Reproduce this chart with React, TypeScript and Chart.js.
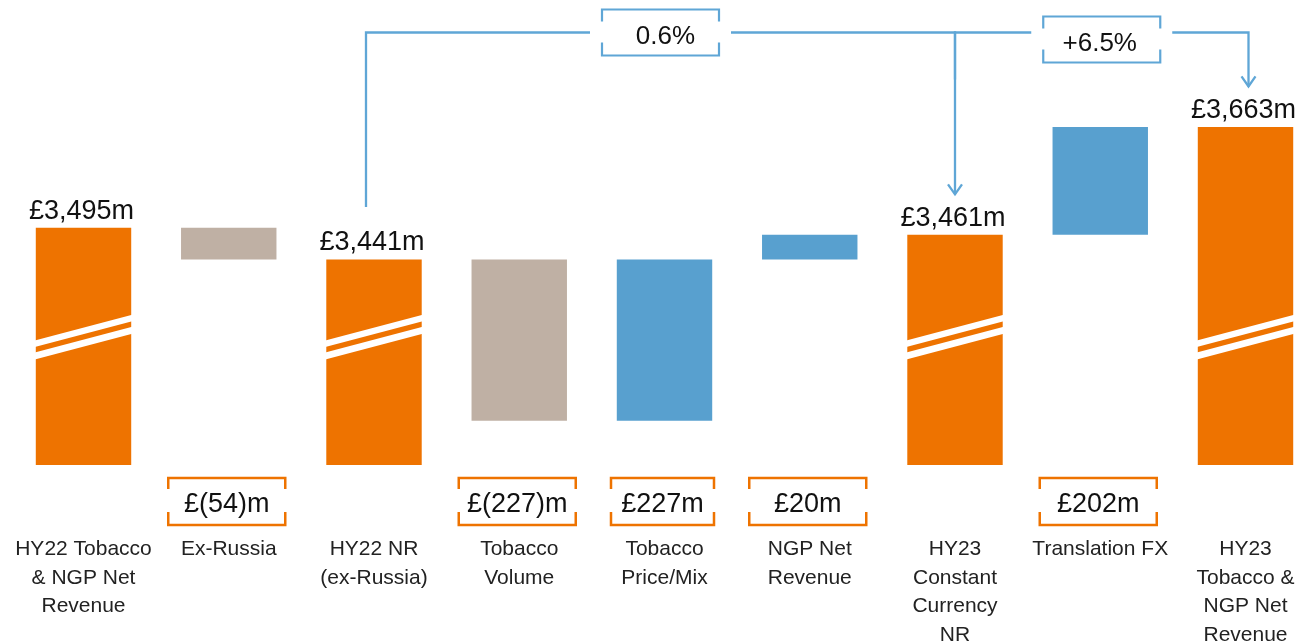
import { useEffect, useRef } from "react";
import { Chart, registerables } from "chart.js";

Chart.register(...registerables);

// ---- Data ----
const categoryLines: string[][] = [
  ["HY22 Tobacco", "& NGP Net", "Revenue"],
  ["Ex-Russia"],
  ["HY22 NR", "(ex-Russia)"],
  ["Tobacco", "Volume"],
  ["Tobacco", "Price/Mix"],
  ["NGP Net", "Revenue"],
  ["HY23", "Constant", "Currency", "NR"],
  ["Translation FX"],
  ["HY23", "Tobacco &", "NGP Net", "Revenue"],
];
const barKinds = ["total", "delta", "total", "delta", "delta", "delta", "total", "delta", "total"];
// Values shown on the chart (£m)
const valuesGBPm = [3495, -54, 3441, -227, 227, 20, 3461, 202, 3663];
// Heights as drawn on the broken (non-linear) axis, in display units
const displaySteps = [51.0, -6.8, 44.2, -34.7, 34.7, 5.3, 49.5, 23.2, 72.7];
// Where the axis-break marks sit on the total bars (display units)
const breakAt = 27.5;
// Growth connectors
const growthLabels = ["0.6%", "+6.5%"];
const growthFrom = [2, 6];
const growthTo = [6, 8];

// ---- Styles ----
const ORANGE = "rgb(238,115,0)";
const TAUPE = "rgb(191,176,164)";
const BLUE = "rgb(88,160,207)";
const LINE_BLUE = "rgb(95,166,214)";
const FONT = '"Liberation Sans", Arial, sans-serif';

function buildFloating() {
  const out: [number, number][] = [];
  let run = 0;
  displaySteps.forEach((v, i) => {
    if (barKinds[i] === "total") {
      out.push([0, v]);
      run = v;
    } else {
      out.push([run, run + v]);
      run += v;
    }
  });
  return out;
}

function fmt(v: number, kind: string) {
  const abs = Math.abs(v).toLocaleString("en-GB");
  if (kind === "total") return "£" + abs + "m";
  return v < 0 ? "£(" + abs + ")m" : "£" + abs + "m";
}

const overlayPlugin = {
  id: "overlay",
  afterDatasetsDraw(chart: any) {
    const ctx: CanvasRenderingContext2D = chart.ctx;
    const xs = chart.scales.x;
    const ys = chart.scales.y;
    const area = chart.chartArea;
    const meta = chart.getDatasetMeta(0);
    ctx.save();

    // Break marks on totals
    const c = ys.getPixelForValue(breakAt);
    const slope = 25 / 95;
    meta.data.forEach((bar: any, i: number) => {
      if (barKinds[i] !== "total") return;
      const { x, width } = bar.getProps(["x", "width"], true);
      const l = x - width / 2 - 1;
      const r = x + width / 2 + 1;
      const half = (width / 2 + 1) * slope;
      ctx.fillStyle = "#ffffff";
      for (const [a, b] of [[-9.5, -3], [2.5, 9.5]]) {
        ctx.beginPath();
        ctx.moveTo(l, c + half + a);
        ctx.lineTo(r, c - half + a);
        ctx.lineTo(r, c - half + b);
        ctx.lineTo(l, c + half + b);
        ctx.closePath();
        ctx.fill();
      }
    });

    // Total labels above bars
    const labelTop = (i: number) => {
      const { y } = meta.data[i].getProps(["y"], true);
      return y;
    };
    ctx.font = "27px " + FONT;
    ctx.fillStyle = "#111";
    ctx.textAlign = "center";
    ctx.textBaseline = "alphabetic";
    meta.data.forEach((bar: any, i: number) => {
      if (barKinds[i] !== "total") return;
      const { x, y } = bar.getProps(["x", "y"], true);
      ctx.fillText(fmt(valuesGBPm[i], "total"), x - 2, y - 9);
    });

    // Delta value boxes below
    const bTop = area.bottom + 13;
    const bBot = area.bottom + 60;
    meta.data.forEach((bar: any, i: number) => {
      if (barKinds[i] !== "delta") return;
      const { x } = bar.getProps(["x"], true);
      const w = i === 4 ? 103 : 117;
      const l = x - w / 2 - 2;
      const r = x + w / 2 - 2;
      ctx.strokeStyle = ORANGE;
      ctx.lineWidth = 2.5;
      ctx.beginPath();
      ctx.moveTo(l, bTop + 11);
      ctx.lineTo(l, bTop);
      ctx.lineTo(r, bTop);
      ctx.lineTo(r, bTop + 11);
      ctx.moveTo(l, bBot - 13);
      ctx.lineTo(l, bBot);
      ctx.lineTo(r, bBot);
      ctx.lineTo(r, bBot - 13);
      ctx.stroke();
      ctx.fillStyle = "#111";
      ctx.font = "27px " + FONT;
      ctx.fillText(fmt(valuesGBPm[i], "delta"), (l + r) / 2, area.bottom + 47);
    });

    // Category labels
    ctx.font = "21px " + FONT;
    ctx.fillStyle = "#222";
    categoryLines.forEach((lines, i) => {
      const x = xs.getPixelForValue(i);
      lines.forEach((t, k) => {
        ctx.fillText(t, x, area.bottom + 90 + k * 28.7);
      });
    });

    // Growth connectors
    const lineY = area.top + 32.5;
    const arrow = (x: number, tipY: number) => {
      ctx.beginPath();
      ctx.moveTo(x - 7, tipY - 10);
      ctx.lineTo(x, tipY);
      ctx.lineTo(x + 7, tipY - 10);
      ctx.stroke();
    };
    const capTop = (i: number) => labelTop(i) - 9 - 19.5;
    growthLabels.forEach((lab, g) => {
      const a = growthFrom[g];
      const b = growthTo[g];
      const x0 = xs.getPixelForValue(a) - (g === 0 ? 8 : 0);
      const x1 = xs.getPixelForValue(b) + (g === 1 ? 3 : 0);
      const y0 = g === 0 ? capTop(a) - 24 : lineY + 47;
      const tip = capTop(b) - 12;
      const bw = 117;
      const bx = (x0 + x1) / 2;
      const boxC = lineY + (g === 0 ? 0 : 7);
      const bl = bx - bw / 2;
      const br = bx + bw / 2;
      const bt = boxC - 23;
      const bb = boxC + 23;
      ctx.strokeStyle = LINE_BLUE;
      ctx.lineWidth = 2.3;
      ctx.beginPath();
      ctx.moveTo(x0, y0);
      ctx.lineTo(x0, lineY);
      ctx.lineTo(bl - 12, lineY);
      ctx.moveTo(br + 12, lineY);
      ctx.lineTo(x1, lineY);
      ctx.lineTo(x1, tip);
      ctx.stroke();
      arrow(x1, tip);
      // bracket box
      ctx.lineWidth = 2.2;
      ctx.beginPath();
      ctx.moveTo(bl, bt + 12);
      ctx.lineTo(bl, bt);
      ctx.lineTo(br, bt);
      ctx.lineTo(br, bt + 12);
      ctx.moveTo(bl, bb - 13);
      ctx.lineTo(bl, bb);
      ctx.lineTo(br, bb);
      ctx.lineTo(br, bb - 13);
      ctx.stroke();
      ctx.fillStyle = "#111";
      ctx.font = "26px " + FONT;
      ctx.fillText(lab, bx + (g === 0 ? 5 : -2), boxC + 11);
    });

    ctx.restore();
  },
};

export default function App() {
  const ref = useRef<HTMLCanvasElement | null>(null);
  useEffect(() => {
    if (!ref.current) return;
    const floating = buildFloating();
    const colors = displaySteps.map((v, i) =>
      barKinds[i] === "total" ? ORANGE : v < 0 ? TAUPE : BLUE
    );
    const chart = new Chart(ref.current, {
      type: "bar",
      data: {
        labels: categoryLines.map((l) => l.join(" ")),
        datasets: [
          {
            data: floating as any,
            backgroundColor: colors,
            borderWidth: 0,
            barPercentage: 0.657,
            categoryPercentage: 1,
            clip: false as any,
          },
        ],
      },
      options: {
        animation: false,
        responsive: true,
        maintainAspectRatio: false,
        events: [],
        layout: { padding: { left: 83.5, right: 65.5, top: 0, bottom: 179 } },
        plugins: { legend: { display: false }, tooltip: { enabled: false } },
        scales: {
          x: { type: "category", offset: false, display: false, grid: { offset: false } },
          y: { min: 0, max: 100, display: false },
        },
      },
      plugins: [overlayPlugin],
    });
    return () => chart.destroy();
  }, []);
  return (
    <div style={{ position: "fixed", left: 0, top: 0, width: 1311, height: 644, background: "#fff" }}>
      <canvas ref={ref} />
    </div>
  );
}
